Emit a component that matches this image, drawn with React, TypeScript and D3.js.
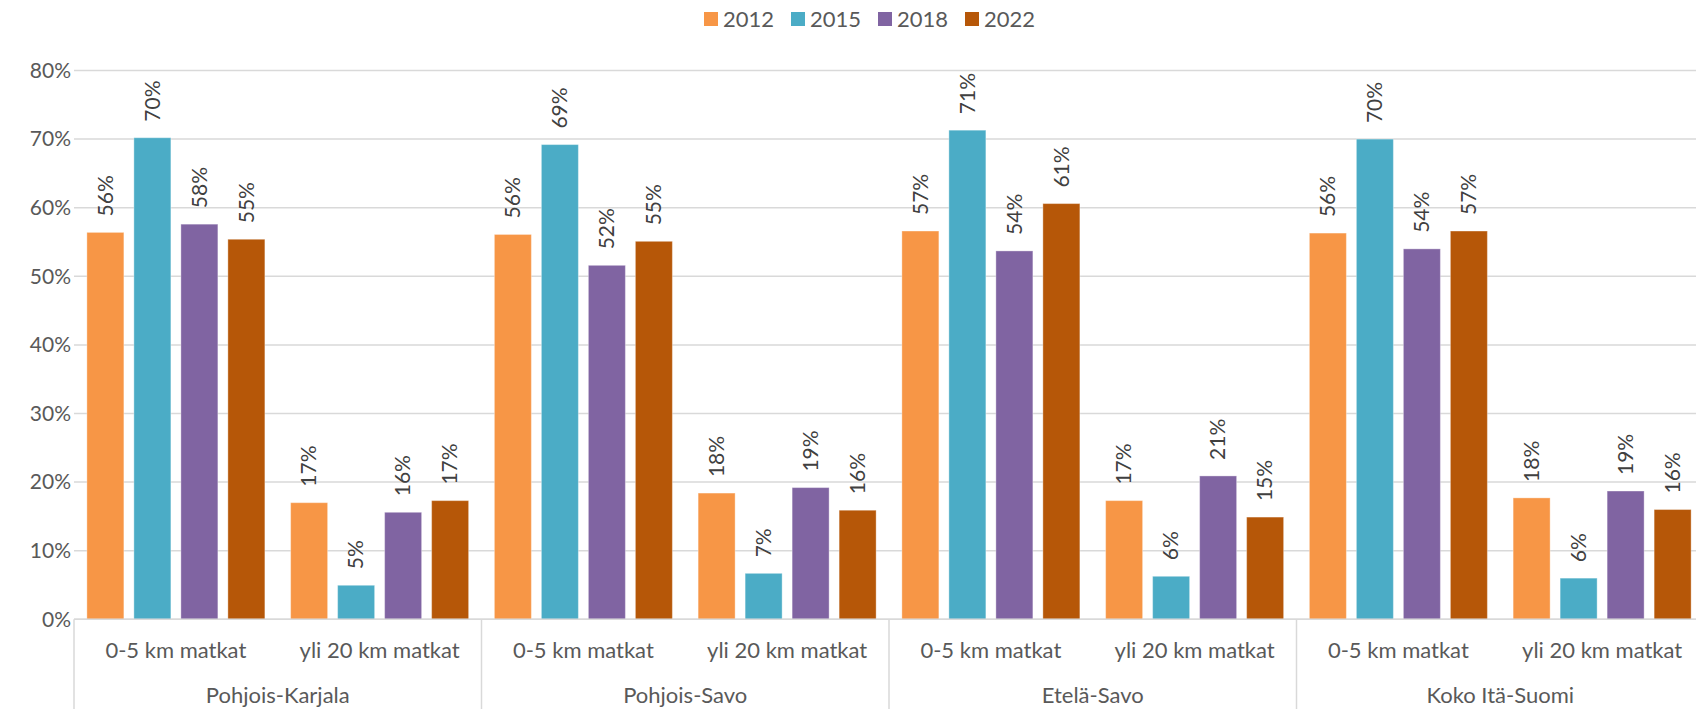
import { useEffect, useRef } from "react";
import * as d3 from "d3";

const years = ["2012", "2015", "2018", "2022"];
const regions = ["Pohjois-Karjala", "Pohjois-Savo", "Etelä-Savo", "Koko Itä-Suomi"];
const tripTypes = ["0-5 km matkat", "yli 20 km matkat"];

// one value per region x trip type, in order
const values2012 = [56.4, 17.0, 56.1, 18.4, 56.6, 17.3, 56.3, 17.7];
const values2015 = [70.2, 4.96, 69.2, 6.7, 71.3, 6.27, 70.0, 6.0];
const values2018 = [57.6, 15.6, 51.6, 19.2, 53.7, 20.9, 54.0, 18.7];
const values2022 = [55.4, 17.3, 55.1, 15.9, 60.6, 14.9, 56.6, 16.0];

const yTicks = [0, 10, 20, 30, 40, 50, 60, 70, 80];
const colors = ["#F79646", "#4BACC6", "#8064A2", "#B65708"];

interface Cell {
  key: string;
  region: string;
  trip: string;
}

const App: React.FC = () => {
  const svgRef = useRef<SVGSVGElement | null>(null);

  useEffect(() => {
    if (!svgRef.current) return;
    const width = 1696;
    const height = 709;
    const margin = { left: 74, right: -8, top: 70.5, bottom: 89.7 };
    const font = "Lato, 'Open Sans', sans-serif";

    const svg = d3.select(svgRef.current);
    svg.selectAll("*").remove();

    const cells: Cell[] = [];
    regions.forEach((r) => tripTypes.forEach((t) => cells.push({ key: `${r}|${t}`, region: r, trip: t })));
    const series = [values2012, values2015, values2018, values2022];

    const x0 = d3
      .scaleBand<string>()
      .domain(cells.map((c) => c.key))
      .range([margin.left, width - margin.right])
      .padding(0);

    const xr = d3
      .scaleBand<string>()
      .domain(regions)
      .range([margin.left, width - margin.right])
      .padding(0);

    const x1 = d3
      .scaleBand<string>()
      .domain(years)
      .range([0, x0.bandwidth()])
      .paddingInner(0.213)
      .paddingOuter(0.274);

    const y = d3.scaleLinear().domain([0, 80]).range([height - margin.bottom, margin.top]);

    // gridlines
    svg
      .append("g")
      .selectAll("line")
      .data(yTicks)
      .join("line")
      .attr("x1", margin.left)
      .attr("x2", width)
      .attr("y1", (d) => y(d))
      .attr("y2", (d) => y(d))
      .attr("stroke", "#d9d9d9")
      .attr("stroke-width", 1.5);

    // y labels
    svg
      .append("g")
      .selectAll("text")
      .data(yTicks)
      .join("text")
      .attr("x", 71)
      .attr("y", (d) => y(d))
      .attr("dy", "0.35em")
      .attr("text-anchor", "end")
      .attr("fill", "#595959")
      .style("font-family", font)
      .style("font-size", "21px")
      .text((d) => `${d}%`);

    // bars
    series.forEach((vals, si) => {
      const g = svg.append("g");
      g.selectAll("rect")
        .data(cells)
        .join("rect")
        .attr("x", (c) => x0(c.key)! + x1(years[si])!)
        .attr("width", x1.bandwidth())
        .attr("y", (_, i) => y(vals[i]))
        .attr("height", (_, i) => y(0) - y(vals[i]))
        .attr("fill", colors[si])
        .attr("stroke", "#ffffff")
        .attr("stroke-opacity", 0.35)
        .attr("stroke-width", 1);

      g.selectAll("text")
        .data(cells)
        .join("text")
        .attr("transform", (c, i) => {
          const cx = x0(c.key)! + x1(years[si])! + x1.bandwidth() / 2;
          return `translate(${cx},${y(vals[i]) - 16}) rotate(-90)`;
        })
        .attr("dy", "0.35em")
        .attr("fill", "#404040")
        .style("font-family", font)
        .style("font-size", "21px")
        .text((_, i) => `${Math.round(vals[i])}%`);
    });

    // category axis
    const base = y(0);
    svg
      .append("line")
      .attr("x1", margin.left)
      .attr("x2", width)
      .attr("y1", base)
      .attr("y2", base)
      .attr("stroke", "#d9d9d9")
      .attr("stroke-width", 1.5);

    svg
      .append("g")
      .selectAll("line")
      .data(regions)
      .join("line")
      .attr("x1", (r) => xr(r)!)
      .attr("x2", (r) => xr(r)!)
      .attr("y1", base)
      .attr("y2", height)
      .attr("stroke", "#d9d9d9")
      .attr("stroke-width", 1.5);

    svg
      .append("g")
      .selectAll("text")
      .data(cells)
      .join("text")
      .attr("x", (c) => x0(c.key)! + x0.bandwidth() / 2)
      .attr("y", 658)
      .attr("text-anchor", "middle")
      .attr("fill", "#595959")
      .style("font-family", font)
      .style("font-size", "22px")
      .text((c) => c.trip);

    svg
      .append("g")
      .selectAll("text")
      .data(regions)
      .join("text")
      .attr("x", (r) => xr(r)! + xr.bandwidth() / 2)
      .attr("y", 703)
      .attr("text-anchor", "middle")
      .attr("fill", "#595959")
      .style("font-family", font)
      .style("font-size", "22px")
      .text((r) => r);

    // legend
    const legend = svg
      .append("g")
      .selectAll("g")
      .data(years)
      .join("g")
      .attr("transform", (_, i) => `translate(${704 + i * 87},12)`);
    legend
      .append("rect")
      .attr("width", 14)
      .attr("height", 14)
      .attr("fill", (_, i) => colors[i]);
    legend
      .append("text")
      .attr("x", 19)
      .attr("y", 14.5)
      .attr("fill", "#595959")
      .style("font-family", font)
      .style("font-size", "22px")
      .text((d) => d);
  }, []);

  return (
    <svg
      ref={svgRef}
      width={1696}
      height={709}
      style={{ position: "absolute", left: 0, top: 0, background: "#fff", overflow: "hidden" }}
    ></svg>
  );
};

export default App;
